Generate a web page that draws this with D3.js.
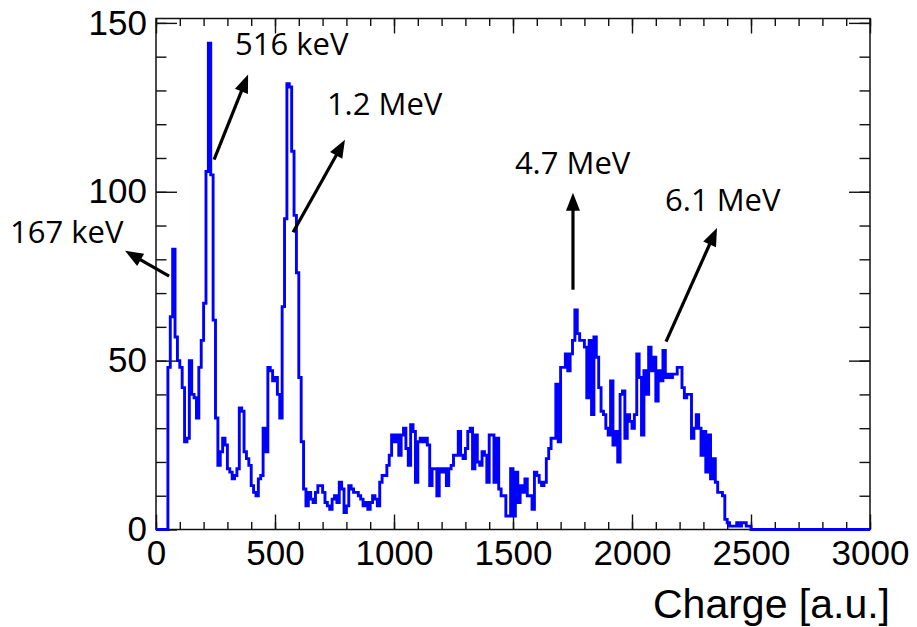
<!DOCTYPE html>
<html>
<head>
<meta charset="utf-8">
<script src="https://cdn.jsdelivr.net/npm/d3@7"></script>
<style>
body { margin: 0; background: #fff; }
svg { display: block; }
</style>
</head>
<body>
<svg id="chart" width="917" height="627"></svg>
<script>
const width = 917
const height = 627

// bin contents, 300 bins of 10 a.u. between 0 and 3000
const binWidth = 10
const counts = [
    0, 0, 0, 0, 0, 48, 63, 83, 57, 50,
    48, 42, 26, 27, 50, 40, 39, 33, 48, 56,
    67, 106, 144, 105, 62, 33, 19, 23, 27, 25,
    18, 17, 15, 16, 18, 36, 35, 23, 21, 19,
    13, 11, 10, 15, 16, 30, 23, 48, 47, 44,
    45, 40, 33, 66, 92, 132, 131, 112, 93, 76,
    45, 26, 12, 7, 11, 9, 8, 11, 13, 13,
    11, 8, 7, 6, 9, 10, 8, 14, 12, 5,
    7, 13, 12, 11, 11, 10, 9, 7, 8, 6,
    8, 10, 9, 7, 14, 16, 16, 19, 22, 28,
    26, 28, 22, 28, 30, 24, 19, 31, 29, 14,
    26, 27, 26, 27, 25, 13, 18, 18, 10, 18,
    17, 18, 13, 18, 19, 22, 22, 29, 22, 21,
    24, 29, 30, 18, 28, 20, 19, 23, 22, 14,
    28, 28, 14, 27, 12, 10, 10, 4, 4, 18,
    4, 17, 8, 13, 11, 15, 10, 10, 6, 17,
    16, 14, 13, 14, 21, 24, 27, 27, 43, 26,
    48, 48, 52, 47, 52, 56, 65, 58, 56, 56,
    54, 39, 56, 34, 57, 51, 42, 35, 34, 30,
    28, 44, 25, 29, 20, 40, 41, 27, 34, 32,
    30, 34, 52, 45, 28, 47, 40, 54, 47, 51,
    38, 47, 44, 53, 45, 46, 45, 46, 46, 48,
    48, 42, 39, 40, 40, 27, 30, 34, 30, 22,
    29, 17, 28, 15, 21, 14, 11, 11, 10, 3,
    2, 1, 1, 1, 2, 1, 2, 2, 1, 1,
    0, 0, 0, 0, 0, 0, 0, 0, 0, 0,
    0, 0, 0, 0, 0, 0, 0, 0, 0, 0,
    0, 0, 0, 0, 0, 0, 0, 0, 0, 0,
    0, 0, 0, 0, 0, 0, 0, 0, 0, 0,
    0, 0, 0, 0, 0, 0, 0, 0, 0, 0
]

const xMajorTicks = [0, 500, 1000, 1500, 2000, 2500, 3000]
const yMajorTicks = [0, 50, 100, 150]
const xTitle = 'Charge [a.u.]'

// peak labels, in data units (charge, counts)
const peakNames = ['167 keV', '516 keV', '1.2 MeV', '4.7 MeV', '6.1 MeV']
const labelAt = [[-613, 88], [332, 143.8], [718, 126], [1508, 108.6], [2139, 97.6]]
const arrowFrom = [[55, 75], [244, 109.5], [576, 88], [1752, 71], [2143, 55.6]]
const arrowTo = [[-130, 82.5], [387, 134.7], [794, 115.4], [1752, 99.7], [2357, 89.3]]

const margin = { left: 156, top: 18.5, right: 47, bottom: 97.5 }

const x = d3.scaleLinear()
    .domain([0, 3000])
    .range([margin.left, width - margin.right])

const y = d3.scaleLinear()
    .domain([0, 151.3])
    .range([height - margin.bottom, margin.top])

const svg = d3.select('#chart')

const tickFont = '35px "Liberation Sans", Arial, sans-serif'
const minorX = d3.range(0, 3001, 100)
const minorY = d3.range(0, 151, 10)

// bottom axis, ticks pointing inwards
svg.append('g')
    .attr('transform', `translate(0,${y(0)})`)
    .call(d3.axisBottom(x).tickValues(minorX).tickSize(-7.5).tickFormat(''))
    .call(g => g.select('.domain').remove())
svg.append('g')
    .attr('class', 'xaxis')
    .attr('transform', `translate(0,${y(0)})`)
    .call(d3.axisBottom(x).tickValues(xMajorTicks).tickSize(-15).tickPadding(11).tickFormat(d3.format('d')))
    .call(g => g.select('.domain').remove())

// top axis
svg.append('g')
    .attr('transform', `translate(0,${margin.top})`)
    .call(d3.axisTop(x).tickValues(minorX).tickSize(-7.5).tickFormat(''))
    .call(g => g.select('.domain').remove())
svg.append('g')
    .attr('transform', `translate(0,${margin.top})`)
    .call(d3.axisTop(x).tickValues(xMajorTicks).tickSize(-15).tickFormat(''))
    .call(g => g.select('.domain').remove())

// left axis
svg.append('g')
    .attr('transform', `translate(${x(0)},0)`)
    .call(d3.axisLeft(y).tickValues(minorY).tickSize(-10.5).tickFormat(''))
    .call(g => g.select('.domain').remove())
svg.append('g')
    .attr('class', 'yaxis')
    .attr('transform', `translate(${x(0)},0)`)
    .call(d3.axisLeft(y).tickValues(yMajorTicks).tickSize(-21).tickPadding(9))
    .call(g => g.select('.domain').remove())

// right axis
svg.append('g')
    .attr('transform', `translate(${x(3000)},0)`)
    .call(d3.axisRight(y).tickValues(minorY).tickSize(-10.5).tickFormat(''))
    .call(g => g.select('.domain').remove())
svg.append('g')
    .attr('transform', `translate(${x(3000)},0)`)
    .call(d3.axisRight(y).tickValues(yMajorTicks).tickSize(-21).tickFormat(''))
    .call(g => g.select('.domain').remove())

svg.selectAll('.tick line')
    .attr('stroke', '#111')
    .attr('stroke-width', 1.4)

svg.selectAll('.xaxis text, .yaxis text')
    .style('font', tickFont)
    .attr('fill', '#000')

// frame
svg.append('rect')
    .attr('x', x(0))
    .attr('y', y(151.3))
    .attr('width', x(3000) - x(0))
    .attr('height', y(0) - y(151.3))
    .attr('fill', 'none')
    .attr('stroke', '#111')
    .attr('stroke-width', 1.5)

// histogram outline
const histPoints = [[0, 0]]
counts.forEach((c, i) => {
    histPoints.push([i * binWidth, c])
    histPoints.push([(i + 1) * binWidth, c])
})
histPoints.push([counts.length * binWidth, 0])

const line = d3.line()
    .x(d => x(d[0]))
    .y(d => y(d[1]))

svg.append('path')
    .datum(histPoints)
    .attr('d', line)
    .attr('fill', 'none')
    .attr('stroke', '#0000ff')
    .attr('stroke-width', 2.9)
    .attr('stroke-linejoin', 'miter')

svg.append('text')
    .attr('x', x(3000) + 20)
    .attr('y', y(0) + 88)
    .attr('text-anchor', 'end')
    .style('font', '41px "Liberation Sans", Arial, sans-serif')
    .text(xTitle)

// arrows
const headLen = 18
const headHalf = 7
const arrows = svg.append('g')
peakNames.forEach((name, i) => {
    const x1 = x(arrowFrom[i][0]), y1 = y(arrowFrom[i][1])
    const x2 = x(arrowTo[i][0]), y2 = y(arrowTo[i][1])
    const len = Math.hypot(x2 - x1, y2 - y1)
    const ux = (x2 - x1) / len, uy = (y2 - y1) / len
    const bx = x2 - ux * headLen, by = y2 - uy * headLen
    arrows.append('line')
        .attr('x1', x1).attr('y1', y1)
        .attr('x2', bx + ux * 2).attr('y2', by + uy * 2)
        .attr('stroke', '#000')
        .attr('stroke-width', 3.2)
    arrows.append('path')
        .attr('d', `M${x2},${y2}L${bx - uy * headHalf},${by + ux * headHalf}L${bx + uy * headHalf},${by - ux * headHalf}Z`)
        .attr('fill', '#000')

    svg.append('text')
        .attr('x', x(labelAt[i][0]))
        .attr('y', y(labelAt[i][1]))
        .attr('dy', '0.36em')
        .style('font', '31px "Open Sans", "Noto Sans", sans-serif')
        .attr('fill', '#000')
        .text(name)
})
</script>
</body>
</html>
